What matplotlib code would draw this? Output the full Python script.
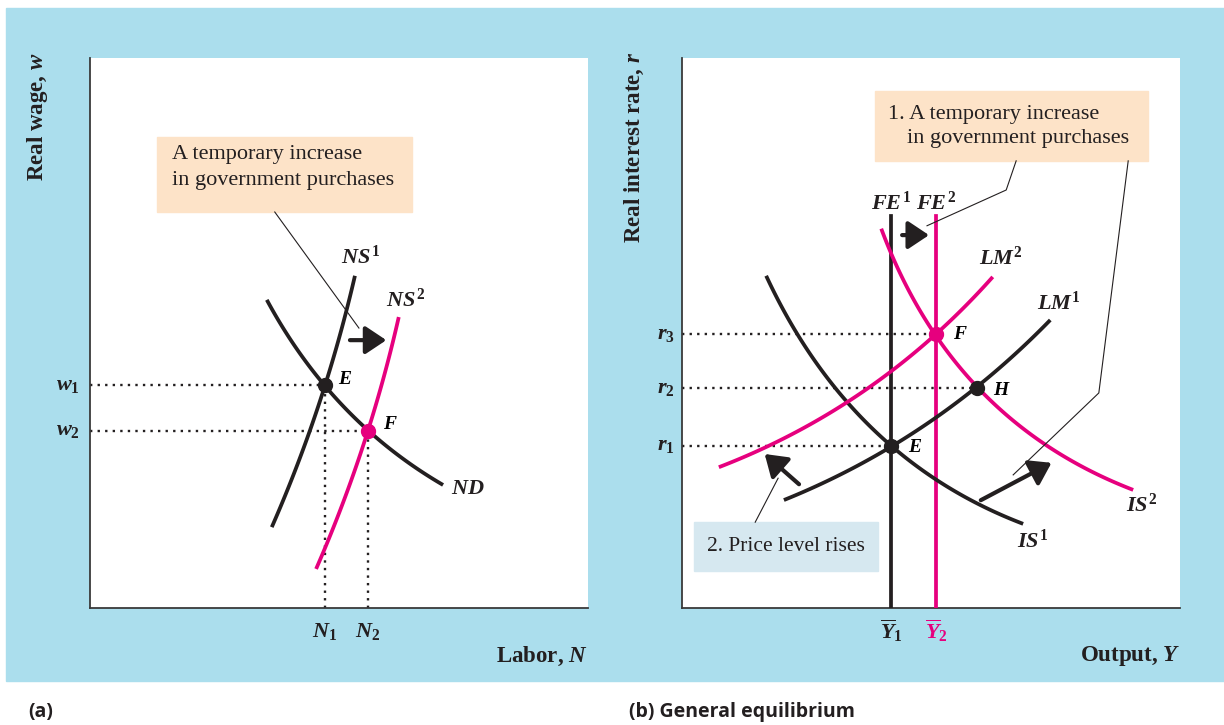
import numpy as np
import matplotlib
matplotlib.use('Agg')
import matplotlib.pyplot as plt
from matplotlib.patches import Rectangle, FancyArrowPatch

plt.rcParams['font.family'] = 'Liberation Serif'
plt.rcParams['mathtext.fontset'] = 'custom'
plt.rcParams['mathtext.it'] = 'Liberation Serif:italic:bold'
plt.rcParams['mathtext.rm'] = 'Liberation Serif:bold'
plt.rcParams['mathtext.bf'] = 'Liberation Serif:bold'

BLACK = '#231f20'
MAGENTA = '#e6007e'
BLUE_BG = '#abdeed'
PEACH = '#fde3c8'
PALE = '#d6e8f0'

# panel (a): labor market (x = N, y = w)
nd_x = [3.55, 4.72, 5.58, 7.09]
nd_y = [5.60, 4.05, 3.22, 2.24]
ns1_x = [3.65, 4.72, 5.32]
ns1_y = [1.47, 4.05, 6.04]
ns2_x = [4.54, 5.58, 6.20]
ns2_y = [0.71, 3.22, 5.29]
eq_a_x = [4.72, 5.58]  # N1, N2
eq_a_y = [4.05, 3.22]  # w1, w2

# panel (b): IS-LM-FE (x = Y, y = r)
fe_x = [4.20, 5.10]    # Ybar1, Ybar2
fe_top = 7.13
is1_x = [1.69, 4.20, 6.85]
is1_y = [6.04, 2.95, 1.53]
is2_x = [4.00, 5.10, 5.92, 9.06]
is2_y = [6.89, 4.98, 4.00, 2.15]
lm1_x = [2.05, 4.20, 5.92, 7.39]
lm1_y = [1.96, 2.95, 4.00, 5.24]
lm2_x = [0.74, 5.10, 6.24]
lm2_y = [2.56, 4.98, 6.02]
eq_b_x = [4.20, 5.92, 5.10]  # E, H, F
eq_b_y = [2.95, 4.00, 4.98]  # r1, r2, r3


def smooth(xs, ys, n=120):
    # quadratic through the read points, chord-length parameter
    xs, ys = np.asarray(xs), np.asarray(ys)
    d = np.r_[0, np.cumsum(np.hypot(np.diff(xs), np.diff(ys)))]
    t = d / d[-1]
    px = np.polyfit(t, xs, 2)
    py = np.polyfit(t, ys, 2)
    tt = np.linspace(0, 1, n)
    return np.polyval(px, tt), np.polyval(py, tt)


def curve(ax, xs, ys, color):
    cx, cy = smooth(xs, ys)
    ax.plot(cx, cy, color=color, lw=2.7, solid_capstyle='butt', zorder=3)


def arrow(ax, p0, p1):
    ax.add_patch(FancyArrowPatch(p0, p1, arrowstyle='-|>,head_length=0.75,head_width=0.5',
                                 mutation_scale=17, lw=3, color=BLACK, zorder=5,
                                 shrinkA=0, shrinkB=0))


def dotted(ax, xs, ys):
    ax.plot(xs, ys, color=BLACK, lw=1.7, ls=(0, (1, 2.2)), zorder=2)


def setup(ax):
    ax.set_xlim(0, 10)
    ax.set_ylim(0, 10)
    ax.set_facecolor('white')
    for s in ['top', 'right']:
        ax.spines[s].set_visible(False)
    for s in ['left', 'bottom']:
        ax.spines[s].set_color('#3a3a3a')
        ax.spines[s].set_linewidth(1.3)
    ax.set_xticks([])
    ax.set_yticks([])


fig = plt.figure(figsize=(12.24, 7.25), dpi=100)
W, H = 1224, 725
fig.patches.append(Rectangle((6 / W, 1 - 681 / H), 1 - 6 / W, (681 - 8) / H,
                             transform=fig.transFigure, color=BLUE_BG, zorder=-10))

ax1 = fig.add_axes([90 / W, 1 - 608 / H, 498 / W, 550 / H])
ax2 = fig.add_axes([682 / W, 1 - 608 / H, 498 / W, 550 / H])
setup(ax1)
setup(ax2)

lab = dict(fontsize=16, color=BLACK)

# ---- panel (a)
for nx, wy in zip(eq_a_x, eq_a_y):
    dotted(ax1, [0, nx], [wy, wy])
    dotted(ax1, [nx, nx], [0, wy])
curve(ax1, nd_x, nd_y, BLACK)
curve(ax1, ns1_x, ns1_y, BLACK)
curve(ax1, ns2_x, ns2_y, MAGENTA)
ax1.plot(eq_a_x[0], eq_a_y[0], 'o', color=BLACK, ms=10, zorder=6)
ax1.plot(eq_a_x[1], eq_a_y[1], 'o', color=MAGENTA, ms=10, zorder=6)
arrow(ax1, (5.22, 4.87), (5.95, 4.87))

ax1.text(5.44, 6.38, r'$NS^1$', ha='center', va='center', **lab)
ax1.text(6.33, 5.60, r'$NS^2$', ha='center', va='center', **lab)
ax1.text(7.25, 2.16, r'$ND$', ha='left', va='center', **lab)
ax1.text(4.98, 4.15, r'$E$', ha='left', va='center', fontsize=14)
ax1.text(5.88, 3.33, r'$F$', ha='left', va='center', fontsize=14)
ax1.text(-0.2, eq_a_y[0], r'$w_1$', ha='right', va='center', **lab)
ax1.text(-0.2, eq_a_y[1], r'$w_2$', ha='right', va='center', **lab)
ax1.text(eq_a_x[0], -0.42, r'$N_1$', ha='center', va='center', **lab)
ax1.text(eq_a_x[1], -0.42, r'$N_2$', ha='center', va='center', **lab)

ax1.add_patch(Rectangle((1.35, 7.2), 5.12, 1.36, color=PEACH, zorder=4))
ax1.text(1.65, 8.24, 'A temporary increase', ha='left', va='center',
         fontsize=16, color=BLACK, zorder=5)
ax1.text(1.65, 7.78, 'in government purchases', ha='left', va='center',
         fontsize=16, color=BLACK, zorder=5)
ax1.plot([3.71, 5.40], [7.2, 5.09], color=BLACK, lw=0.8, zorder=4)

fig.text(38 / W, 1 - 52 / H, r'Real wage, $w$', rotation=90, ha='center', va='top',
         fontsize=16.5, fontweight='bold', color=BLACK)
fig.text(588 / W, 1 - 656 / H, r'Labor, $N$', ha='right', va='center',
         fontsize=16.5, fontweight='bold', color=BLACK)
fig.text(28 / W, 1 - 712 / H, '(a)', ha='left', va='center', fontsize=14,
         fontweight='bold', family='Open Sans', color=BLACK)

# ---- panel (b)
for (ex, ey) in zip(eq_b_x, eq_b_y):
    dotted(ax2, [0, ex], [ey, ey])
ax2.plot([fe_x[0], fe_x[0]], [0, fe_top], color=BLACK, lw=2.7, zorder=3)
ax2.plot([fe_x[1], fe_x[1]], [0, fe_top], color=MAGENTA, lw=2.7, zorder=3)
curve(ax2, is1_x, is1_y, BLACK)
curve(ax2, lm1_x, lm1_y, BLACK)
curve(ax2, is2_x, is2_y, MAGENTA)
curve(ax2, lm2_x, lm2_y, MAGENTA)
ax2.plot(eq_b_x[:2], eq_b_y[:2], 'o', color=BLACK, ms=10, zorder=6, ls='none')
ax2.plot(eq_b_x[2], eq_b_y[2], 'o', color=MAGENTA, ms=10, zorder=6)

arrow(ax2, (4.42, 6.78), (4.96, 6.78))
arrow(ax2, (2.35, 2.25), (1.66, 2.80))
arrow(ax2, (6.0, 1.96), (7.42, 2.64))

ax2.text(fe_x[0], 7.36, r'$FE^1$', ha='center', va='center', **lab)
ax2.text(fe_x[1], 7.36, r'$FE^2$', ha='center', va='center', **lab)
ax2.text(5.96, 6.36, r'$LM^2$', ha='left', va='center', **lab)
ax2.text(7.13, 5.55, r'$LM^1$', ha='left', va='center', **lab)
ax2.text(6.73, 1.22, r'$IS^1$', ha='left', va='center', **lab)
ax2.text(8.92, 1.87, r'$IS^2$', ha='left', va='center', **lab)
ax2.text(5.44, 4.98, r'$F$', ha='left', va='center', fontsize=14)
ax2.text(6.24, 3.96, r'$H$', ha='left', va='center', fontsize=14)
ax2.text(4.54, 2.91, r'$E$', ha='left', va='center', fontsize=14)
for i, ry in zip([1, 2, 3], [eq_b_y[0], eq_b_y[1], eq_b_y[2]]):
    ax2.text(-0.14, ry, r'$r_%d$' % i, ha='right', va='center', **lab)
ax2.text(fe_x[0], -0.42, r'$\overline{Y}_1$', ha='center', va='center', **lab)
ax2.text(fe_x[1], -0.42, r'$\overline{Y}_2$', ha='center', va='center',
         fontsize=16, color=MAGENTA)

ax2.add_patch(Rectangle((3.88, 8.13), 5.48, 1.27, color=PEACH, zorder=4))
ax2.text(4.14, 8.98, '1. A temporary increase', ha='left', va='center',
         fontsize=16, color=BLACK, zorder=5)
ax2.text(4.52, 8.53, 'in government purchases', ha='left', va='center',
         fontsize=16, color=BLACK, zorder=5)
ax2.plot([6.71, 6.51, 4.92], [8.13, 7.6, 6.95], color=BLACK, lw=0.8, zorder=4)
ax2.plot([8.96, 8.37, 6.65], [8.13, 3.91, 2.42], color=BLACK, lw=0.8, zorder=4)

ax2.add_patch(Rectangle((0.24, 0.67), 3.70, 0.89, color=PALE, zorder=4))
ax2.text(2.09, 1.11, '2. Price level rises', ha='center', va='center',
         fontsize=15.5, color=BLACK, zorder=5)
ax2.plot([1.47, 1.93], [1.56, 2.36], color=BLACK, lw=0.8, zorder=4)

fig.text(634 / W, 1 - 52 / H, r'Real interest rate, $r$', rotation=90, ha='center',
         va='top', fontsize=16.5, fontweight='bold', color=BLACK)
fig.text(1180 / W, 1 - 656 / H, r'Output, $Y$', ha='right', va='center',
         fontsize=16.5, fontweight='bold', color=BLACK)
fig.text(629 / W, 1 - 712 / H, '(b) General equilibrium', ha='left', va='center',
         fontsize=14, fontweight='bold', family='Open Sans', color=BLACK)

fig.savefig('out.png', dpi=100)
